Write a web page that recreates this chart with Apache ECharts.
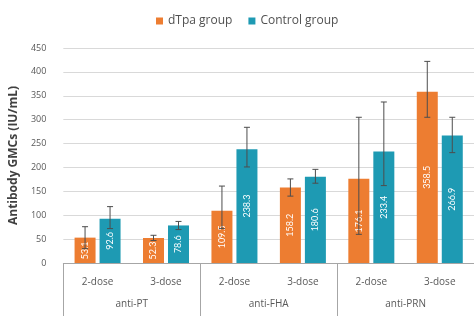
<!DOCTYPE html>
<html>
<head>
<meta charset="utf-8">
<script src="https://cdn.jsdelivr.net/npm/echarts@6/dist/echarts.min.js"></script>
<style>
  html, body { margin: 0; padding: 0; background: #fff; }
  #chart-container { width: 474px; height: 316px; }
</style>
</head>
<body>
<div id="chart-container"></div>
<script>
// Data
const doses = ["2-dose", "3-dose", "2-dose", "3-dose", "2-dose", "3-dose"];
const antigens = ["anti-PT", "anti-FHA", "anti-PRN"];
const dtpaGmc = [53.1, 52.3, 109.5, 158.2, 176.1, 358.5];
const controlGmc = [92.6, 78.6, 238.3, 180.6, 233.4, 266.9];
const dtpaLow = [30, 47, 72, 140, 60, 305];
const dtpaHigh = [76, 58, 161, 176, 305, 422];
const controlLow = [72, 70, 201, 167, 162, 231];
const controlHigh = [118, 87, 284, 196, 337, 305];
const yTicks = [0, 50, 100, 150, 200, 250, 300, 350, 400, 450];

const FONT = "Open Sans";
const ORANGE = "#ED7D31";
const TEAL = "#1E9AB3";
const BAR_W = 21;
const BAR_GAP = 4;

// error bars drawn over the bars
function errorSeries(name, low, high, side) {
  return {
    name: name,
    type: "custom",
    xAxisIndex: 0,
    z: 10,
    silent: true,
    data: low.map((l, i) => [i, l, high[i]]),
    renderItem: function (params, api) {
      const shift = side * (BAR_W + BAR_GAP) / 2;
      const lo = api.coord([api.value(0), api.value(1)]);
      const hi = api.coord([api.value(0), api.value(2)]);
      const x = lo[0] + shift;
      const cap = 3;
      const style = { stroke: "#4d4d4d", lineWidth: 1 };
      return {
        type: "group",
        children: [
          { type: "line", shape: { x1: x, y1: lo[1], x2: x, y2: hi[1] }, style: style },
          { type: "line", shape: { x1: x - cap, y1: hi[1], x2: x + cap, y2: hi[1] }, style: style },
          { type: "line", shape: { x1: x - cap, y1: lo[1], x2: x + cap, y2: lo[1] }, style: style }
        ]
      };
    }
  };
}

// rotated value labels in the middle of each bar
function labelSeries(name, values, side) {
  return {
    name: name,
    type: "custom",
    xAxisIndex: 0,
    z: 5,
    silent: true,
    data: values.map((v, i) => [i, v]),
    renderItem: function (params, api) {
      const shift = side * (BAR_W + BAR_GAP) / 2;
      const top = api.coord([api.value(0), api.value(1)]);
      const base = api.coord([api.value(0), 0]);
      return {
        type: "text",
        x: top[0] + shift,
        y: (top[1] + base[1]) / 2,
        rotation: Math.PI / 2,
        style: {
          text: api.value(1).toFixed(1),
          fill: "#fff",
          font: "9px Lato",
          align: "center",
          verticalAlign: "middle"
        }
      };
    }
  };
}

const dom = document.getElementById("chart-container");
const myChart = echarts.init(dom, null, { renderer: "canvas" });

const option = {
  animation: false,
  textStyle: { fontFamily: FONT },
  legend: {
    data: ["dTpa group", "Control group"],
    top: 10,
    left: 151,
    itemWidth: 7,
    itemHeight: 7,
    itemGap: 16,
    icon: "rect",
    textStyle: { fontSize: 12, color: "#505050", fontFamily: FONT }
  },
  grid: { left: 63, right: -14, top: 48, bottom: 53 },
  xAxis: [
    {
      type: "category",
      data: doses,
      position: "bottom",
      axisLine: { show: true, lineStyle: { color: "#a6a6a6", width: 1 } },
      axisTick: { show: false },
      axisLabel: { interval: 0, margin: 14, fontSize: 10, color: "#595959", fontFamily: FONT }
    },
    {
      type: "category",
      data: antigens,
      position: "bottom",
      axisLine: { show: false },
      axisTick: { show: true, interval: 0, length: 56, lineStyle: { color: "#a6a6a6", width: 1 } },
      axisLabel: { interval: 0, margin: 36, fontSize: 10, color: "#595959", fontFamily: FONT }
    }
  ],
  yAxis: {
    type: "value",
    min: yTicks[0],
    max: yTicks[yTicks.length - 1],
    interval: 50,
    name: "Antibody GMCs (IU/mL)",
    nameLocation: "middle",
    nameGap: 38,
    nameTextStyle: { fontSize: 12, fontWeight: "bold", color: "#404040", fontFamily: FONT },
    axisLine: { show: false },
    axisTick: { show: false },
    axisLabel: { margin: 17, fontSize: 9, color: "#595959", fontFamily: FONT },
    splitLine: { lineStyle: { color: "#d9d9d9", width: 1 } }
  },
  series: [
    {
      name: "dTpa group",
      type: "bar",
      xAxisIndex: 0,
      data: dtpaGmc,
      barWidth: BAR_W,
      barGap: (BAR_GAP / BAR_W * 100) + "%",
      itemStyle: { color: ORANGE }
    },
    {
      name: "Control group",
      type: "bar",
      xAxisIndex: 0,
      data: controlGmc,
      barWidth: BAR_W,
      barGap: (BAR_GAP / BAR_W * 100) + "%",
      itemStyle: { color: TEAL }
    },
    labelSeries("dTpa label", dtpaGmc, -1),
    labelSeries("Control label", controlGmc, 1),
    errorSeries("dTpa err", dtpaLow, dtpaHigh, -1),
    errorSeries("Control err", controlLow, controlHigh, 1)
  ]
};

myChart.setOption(option);
window.addEventListener("resize", myChart.resize);
</script>
</body>
</html>
